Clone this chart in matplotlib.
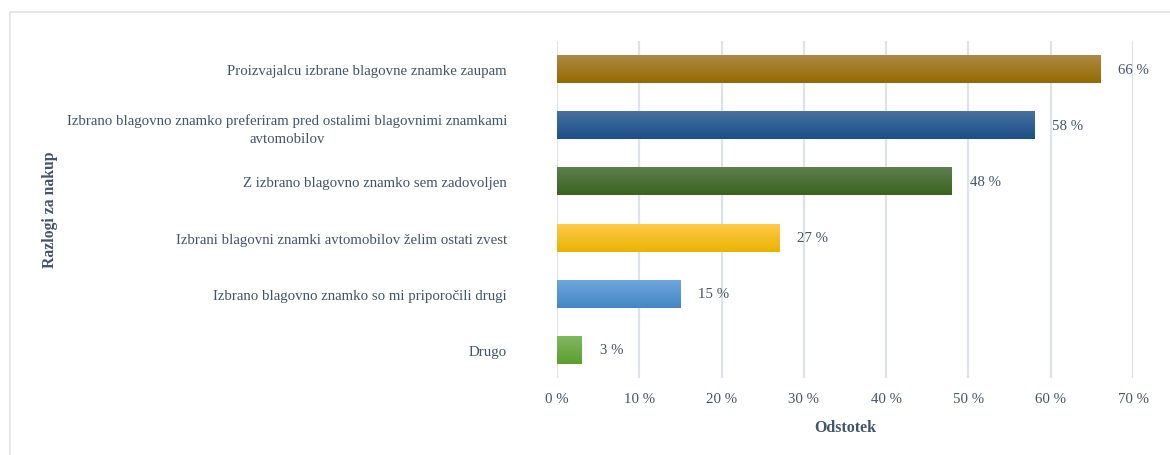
import matplotlib
matplotlib.use("Agg")
import matplotlib.pyplot as plt
import numpy as np
from matplotlib.colors import LinearSegmentedColormap
from matplotlib.lines import Line2D

plt.rcParams['font.family'] = ['Liberation Serif', 'DejaVu Serif']

categories = [
    "Proizvajalcu izbrane blagovne znamke zaupam",
    "Izbrano blagovno znamko preferiram pred ostalimi blagovnimi znamkami\navtomobilov",
    "Z izbrano blagovno znamko sem zadovoljen",
    "Izbrani blagovni znamki avtomobilov želim ostati zvest",
    "Izbrano blagovno znamko so mi priporočili drugi",
    "Drugo",
]
values = [66, 58, 48, 27, 15, 3]
xticks = [0, 10, 20, 30, 40, 50, 60, 70]

# (top colour, bottom colour) for each bar's vertical gradient
bar_gradients = [
    ("#ae8b48", "#956900"),
    ("#4b73a1", "#1a4f87"),
    ("#5f7f4f", "#3a6420"),
    ("#ffcb4c", "#e9b300"),
    ("#71a7de", "#4387c7"),
    ("#82b962", "#5c9e2f"),
]

text_color = "#44546A"
grid_color = "#DEE3EA"
fs = 10.7

fig = plt.figure(figsize=(11.70, 4.56), dpi=100)
ax = fig.add_axes([557 / 1170, 1 - 379 / 456, (1133 - 557) / 1170, (379 - 42) / 456])

ypos = np.arange(len(categories))
bars = ax.barh(ypos, values, height=0.5, color="none", zorder=3)

# paint each bar with a vertical gradient clipped to its rectangle
grad = np.linspace(0, 1, 256).reshape(-1, 1)
for rect, (top, bottom) in zip(bars, bar_gradients):
    cmap = LinearSegmentedColormap.from_list("g", [top, bottom])
    x0, y0 = rect.get_x(), rect.get_y()
    w, h = rect.get_width(), rect.get_height()
    im = ax.imshow(grad, cmap=cmap, aspect="auto", extent=(x0, x0 + w, y0 + h, y0),
                   zorder=3, interpolation="bilinear")
    im.set_clip_path(rect)

for rect, v in zip(bars, values):
    ax.annotate(f"{v} %", xy=(v, rect.get_y() + rect.get_height() / 2),
                xytext=(13, 0), textcoords="offset points",
                va="center", ha="left", fontsize=fs, color=text_color)

ax.set_xlim(0, 70)
ax.set_ylim(len(categories) - 0.5, -0.5)
ax.set_xticks(xticks)
ax.set_xticklabels([f"{t} %" for t in xticks], fontsize=fs, color=text_color)
ax.set_yticks(ypos)
ax.set_yticklabels(categories, fontsize=fs, color=text_color, multialignment="center",
                   linespacing=1.45)
ax.tick_params(axis="y", length=0, pad=36)
ax.tick_params(axis="x", length=0, pad=10)
ax.set_aspect("auto")

for s in ax.spines.values():
    s.set_visible(False)
ax.grid(axis="x", color=grid_color, linewidth=1.6, zorder=0)
ax.set_axisbelow(True)

ax.set_xlabel("Odstotek", fontsize=11.5, fontweight="bold", color=text_color, labelpad=10)
fig.text(50 / 1170, 1 - 210 / 456, "Razlogi za nakup", rotation=90, ha="center", va="center",
         fontsize=11.3, fontweight="bold", color=text_color)

# chart-area frame
fig.add_artist(Line2D([9.5 / 1170, 1], [1 - 12.5 / 456] * 2, color=grid_color, linewidth=1.2))
fig.add_artist(Line2D([9.5 / 1170] * 2, [0, 1 - 12.5 / 456], color=grid_color, linewidth=1.2))

fig.savefig("out.png", dpi=100, facecolor="white")
